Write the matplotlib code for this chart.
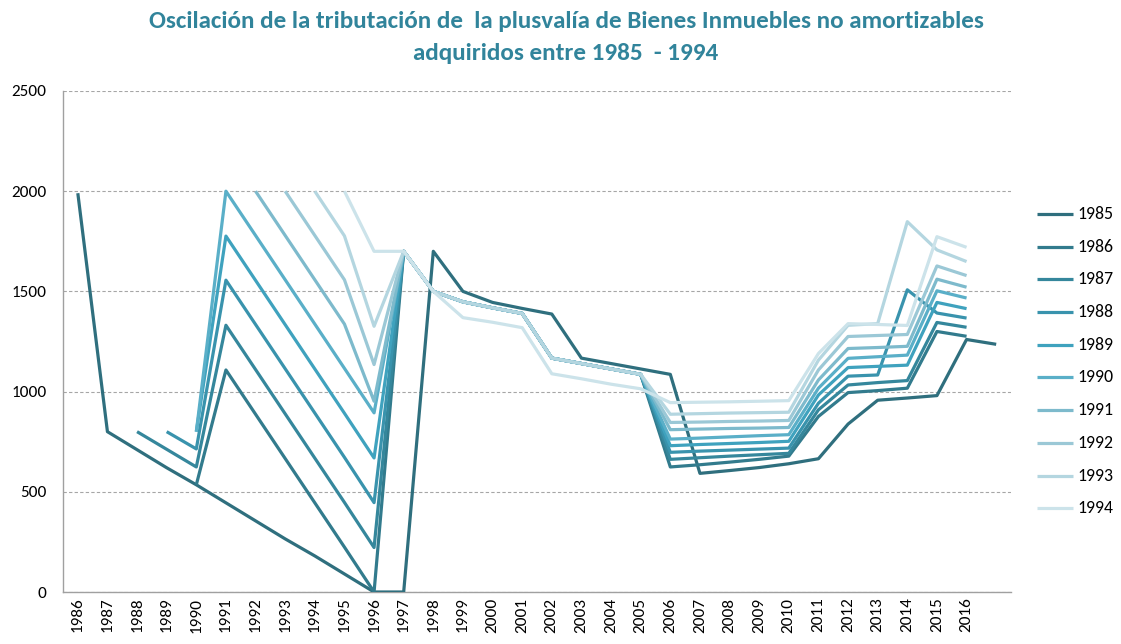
import matplotlib
matplotlib.use('Agg')
import matplotlib.pyplot as plt
import numpy as np
from matplotlib import font_manager
from matplotlib.lines import Line2D

N = None

# ---- categories (x-axis labels); the last category has no label ----
years = ['1986', '1987', '1988', '1989', '1990', '1991', '1992', '1993', '1994', '1995',
         '1996', '1997', '1998', '1999', '2000', '2001', '2002', '2003', '2004', '2005',
         '2006', '2007', '2008', '2009', '2010', '2011', '2012', '2013', '2014', '2015',
         '2016', '']

series_names = ['1985', '1986', '1987', '1988', '1989', '1990', '1991', '1992', '1993', '1994']

#            1986 1987 1988 1989 1990  1991  1992  1993  1994  1995  1996  1997  1998  1999  2000  2001  2002  2003  2004  2005  2006  2007  2008  2009  2010  2011  2012  2013  2014  2015  2016  (blank)
s1985 = [1990, 800, 710, 620, 535, 445, 355, 265, 180, 90, 0, 0, 1700, 1500, 1445, 1415, 1387, 1167, 1140, 1113, 1086, 592, 606, 621, 640, 665, 838, 957, 968, 980, 1260, 1236]
s1986 = [N, N, N, N, 535, 1108, 887, 666, 445, 224, 0, 1700, 1500, 1448, 1418, 1390, 1167, 1140, 1113, 1086, 624, 635, 648, 662, 678, 876, 995, 1005, 1017, 1300, 1276, N]
s1987 = [N, N, 800, 712, 624, 1331, 1110, 889, 668, 447, 222, 1700, 1500, 1448, 1418, 1390, 1167, 1140, 1113, 1086, 662, 670, 678, 685, 692, 909, 1033, 1045, 1055, 1345, 1321, N]
s1988 = [N, N, N, 800, 714, 1556, 1335, 1114, 893, 672, 446, 1700, 1500, 1448, 1418, 1390, 1167, 1140, 1113, 1086, 697, 703, 708, 713, 718, 942, 1077, 1083, 1508, 1392, 1367, N]
s1989 = [N, N, N, N, 800, 1776, 1555, 1334, 1113, 892, 669, 1700, 1500, 1448, 1418, 1390, 1167, 1140, 1113, 1086, 730, 736, 741, 746, 752, 983, 1120, 1126, 1132, 1445, 1414, N]
s1990 = [N, N, N, N, 800, 2000, 1779, 1558, 1337, 1116, 894, 1700, 1500, 1448, 1418, 1390, 1167, 1140, 1113, 1086, 763, 768, 774, 780, 785, 1017, 1166, 1174, 1182, 1503, 1467, N]
s1991 = [N, N, N, N, N, N, 2000, 1779, 1558, 1337, 952, 1700, 1500, 1448, 1418, 1390, 1167, 1140, 1113, 1086, 810, 813, 816, 818, 821, 1058, 1215, 1220, 1226, 1561, 1521, N]
s1992 = [N, N, N, N, N, N, N, 2000, 1779, 1558, 1135, 1700, 1500, 1448, 1418, 1390, 1167, 1140, 1113, 1086, 846, 848, 851, 853, 856, 1108, 1275, 1280, 1285, 1627, 1579, N]
s1993 = [N, N, N, N, N, N, N, N, 2000, 1777, 1326, 1700, 1500, 1448, 1418, 1390, 1167, 1140, 1113, 1086, 887, 890, 893, 895, 897, 1157, 1331, 1339, 1848, 1707, 1649, N]
s1994 = [N, N, N, N, N, N, N, N, N, 2000, 1700, 1700, 1500, 1369, 1346, 1319, 1089, 1064, 1037, 1014, 945, 947, 949, 952, 955, 1190, 1339, 1335, 1330, 1773, 1720, N]

series_values = [s1985, s1986, s1987, s1988, s1989, s1990, s1991, s1992, s1993, s1994]

colors = ['#2F6F7E', '#327B8D', '#35879C', '#3993AD', '#3FA2BE', '#5AAFC8',
          '#7DBACC', '#9BC8D6', '#B4D6E0', '#CCE3EA']

title_color = '#31849B'
grid_color = '#A6A6A6'

W, H = 1121, 644
fig = plt.figure(figsize=(W / 100, H / 100), dpi=100)

available = {f.name for f in font_manager.fontManager.ttflist}
family = 'DejaVu Sans'
for cand in ['Carlito', 'Lato', 'Open Sans', 'Liberation Sans']:
    if cand in available:
        family = cand
        break

renderer = fig.canvas.get_renderer()


def fit_size(text, target_px, weight='normal'):
    t = fig.text(0, 0, text, fontsize=10, family=family, fontweight=weight)
    w = t.get_window_extent(renderer).width
    t.remove()
    return 10 * target_px / w


# axes placement (pixels): left 63, right 1011, top 91, bottom 592
ax = fig.add_axes([63 / W, (H - 592) / H, (1011 - 63) / W, (592 - 91) / H])

x = np.arange(len(years))
for i, (name, vals) in enumerate(zip(series_names, series_values)):
    y = np.array([np.nan if v is None else v for v in vals], dtype=float)
    ax.plot(x, y, color=colors[i], linewidth=2.3, solid_joinstyle='round',
            solid_capstyle='butt', zorder=3 + i, label=name)

ax.set_xlim(-0.5, len(years) - 0.5)
ax.set_ylim(0, 2500)
ax.set_yticks([0, 500, 1000, 1500, 2000, 2500])
ax.yaxis.grid(True, linestyle=(0, (3, 2)), color=grid_color, linewidth=0.8)
ax.set_axisbelow(True)
for s in ['top', 'right']:
    ax.spines[s].set_visible(False)
for s in ['left', 'bottom']:
    ax.spines[s].set_color('#A0A0A0')
    ax.spines[s].set_linewidth(1.0)

tick_fs = fit_size('2500', 35)
ax.set_xticks(x)
ax.set_xticklabels(years, rotation=90, fontsize=tick_fs, family=family, color='#000000')
ax.tick_params(axis='x', length=0, pad=4)
ax.tick_params(axis='y', length=0, pad=12, labelsize=tick_fs, labelcolor='#000000')
for lab in ax.get_yticklabels():
    lab.set_family(family)

# title (two lines)
title1 = 'Oscilación de la tributación de  la plusvalía de Bienes Inmuebles no amortizables'
title2 = 'adquiridos entre 1985  - 1994'
tfs = fit_size(title1, 838, weight='bold')
fig.text(566 / W, 1 - 22 / H, title1, ha='center', va='center', fontsize=tfs,
         fontweight='bold', color=title_color, family=family)
fig.text(566 / W, 1 - 53 / H, title2, ha='center', va='center', fontsize=tfs,
         fontweight='bold', color=title_color, family=family)

# legend (right side)
leg_fs = fit_size('1985', 36)
for i, name in enumerate(series_names):
    yp = 1 - (214 + i * 32.7) / H
    fig.add_artist(Line2D([1037 / W, 1073 / W], [yp, yp], transform=fig.transFigure,
                          color=colors[i], linewidth=2.3, solid_capstyle='butt'))
    fig.text(1077 / W, yp, name, ha='left', va='center', fontsize=leg_fs,
             family=family, color='#000000')

fig.savefig('out.png', dpi=100)
